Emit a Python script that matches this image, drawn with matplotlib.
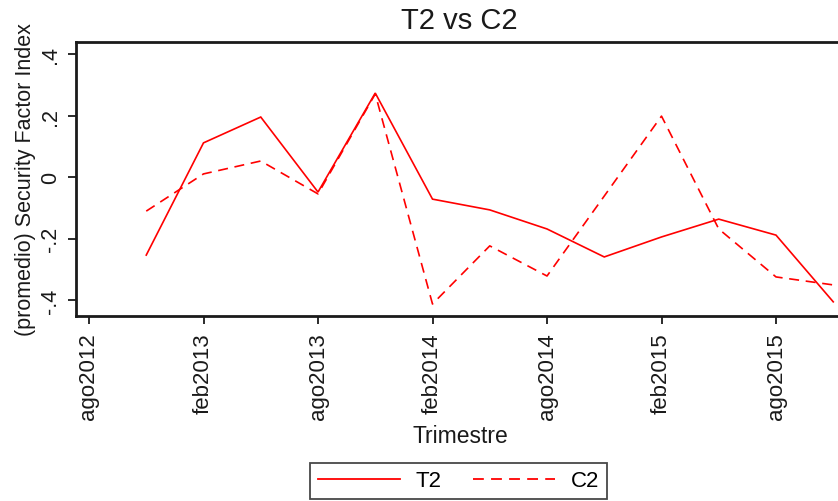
import matplotlib
matplotlib.use("Agg")
import matplotlib.pyplot as plt
from matplotlib.lines import Line2D

plt.rcParams['font.family'] = ['Liberation Sans', 'DejaVu Sans']

# Quarter positions in months since ago2012
months = [3, 6, 9, 12, 15, 18, 21, 24, 27, 30, 33, 36, 39]
t2 = [-0.253, 0.112, 0.196, -0.048, 0.274, -0.071, -0.106, -0.168,
      -0.259, -0.194, -0.136, -0.188, -0.405]
c2 = [-0.110, 0.011, 0.053, -0.054, 0.271, -0.412, -0.223, -0.321,
      -0.061, 0.199, -0.168, -0.324, -0.350]

xtick_pos = [0, 6, 12, 18, 24, 30, 36]
xtick_labels = ['ago2012', 'feb2013', 'ago2013', 'feb2014', 'ago2014',
                'feb2015', 'ago2015']
ytick_pos = [0.4, 0.2, 0.0, -0.2, -0.4]
ytick_labels = ['.4', '.2', '0', '-.2', '-.4']

W, H = 838, 502
fig = plt.figure(figsize=(W / 100, H / 100), dpi=100)
fig.patch.set_facecolor('white')

# axes pixel box
x0, x1 = 76, 850
y_top, y_bot = 43, 317
ax = fig.add_axes([x0 / W, 1 - y_bot / H, (x1 - x0) / W, (y_bot - y_top) / H])

pxm = 687 / 36.0
ax.set_xlim((x0 - 89) / pxm, (x1 - 89) / pxm)
ppu = 307.5
ax.set_ylim(-(y_bot - 178.3) / ppu, (178.3 - y_top) / ppu)

red = '#ff0000'
ax.plot(months, t2, color=red, lw=1.2, solid_joinstyle='miter')
ax.plot(months, c2, color=red, lw=1.2, dashes=(6, 4))

ax.set_xticks(xtick_pos)
ax.set_xticklabels(xtick_labels, rotation=90, fontsize=16)
ax.set_yticks(ytick_pos)
ax.set_yticklabels(ytick_labels, rotation=90, fontsize=15.5, va='center')

for s in ['left', 'bottom', 'top', 'right']:
    ax.spines[s].set_linewidth(2.0)
    ax.spines[s].set_color('#1a1a1a')
ax.tick_params(axis='both', direction='out', length=6, width=1.3,
               color='#1a1a1a', labelcolor='#1a1a1a')
ax.tick_params(axis='x', pad=5.5)
ax.tick_params(axis='y', pad=5)

fig.text(459 / W, 1 - 21 / H, 'T2 vs C2', ha='center', va='center',
         fontsize=21, color='#1a1a1a')
fig.text(460 / W, 1 - 437 / H, 'Trimestre', ha='center', va='center',
         fontsize=16.5, color='#1a1a1a')
fig.text(26 / W, 1 - 180 / H, '(promedio) Security Factor Index',
         ha='center', va='center', rotation=90, fontsize=15.5,
         color='#1a1a1a')

handles = [Line2D([], [], color=red, lw=1.3),
           Line2D([], [], color=red, lw=1.3, dashes=(6, 4))]
leg = fig.legend(handles, ['T2', 'C2'], loc='center',
                 bbox_to_anchor=(458.5 / W, 1 - 482 / H), ncol=2,
                 fontsize=16, handlelength=3.7, handletextpad=0.7,
                 columnspacing=1.4, fancybox=False, frameon=True,
                 borderpad=0.35, borderaxespad=0)
leg.get_frame().set_edgecolor('#1a1a1a')
leg.get_frame().set_linewidth(1.3)

fig.savefig('out.png', dpi=100, facecolor='white')
